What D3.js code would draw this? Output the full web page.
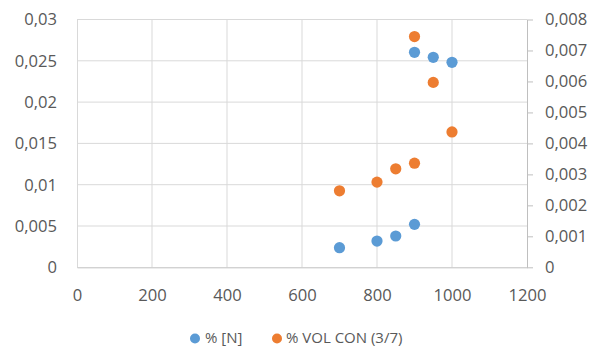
<!DOCTYPE html>
<html>
<head>
<meta charset="utf-8">
<script src="https://cdn.jsdelivr.net/npm/d3@7"></script>
<style>
html,body{margin:0;padding:0;background:#fff;}
text{font-family:"Open Sans",sans-serif;fill:#595959;}
</style>
</head>
<body>
<svg id="chart" width="591" height="348"></svg>
<script>
// Data
const seriesNames = ["% [N]", "% VOL CON (3/7)"];
const xValues = [700, 800, 850, 900, 900, 950, 1000];
const nValues = [0.00237, 0.00318, 0.00379, 0.0052, 0.02603, 0.02542, 0.02482];
const volValues = [0.00247, 0.00275, 0.00318, 0.00336, 0.00745, 0.00597, 0.00437];
const xTicks = [0, 200, 400, 600, 800, 1000, 1200];
const yLeftTicks = [0, 0.005, 0.01, 0.015, 0.02, 0.025, 0.03];
const yRightTicks = [0, 0.001, 0.002, 0.003, 0.004, 0.005, 0.006, 0.007, 0.008];
const colors = ["#5B9BD5", "#ED7D31"];

const svg = d3.select("#chart");
const pLeft = 77, pRight = 527, pTop = 19.5, pBottom = 267.3;

const x = d3.scaleLinear().domain([0, 1200]).range([pLeft, pRight]);
const yL = d3.scaleLinear().domain([0, 0.03]).range([pBottom, pTop]);
const yR = d3.scaleLinear().domain([0, 0.008]).range([pBottom, pTop]);
const fmt = v => String(+v.toFixed(4)).replace(".", ",");

// Gridlines
svg.append("g").selectAll("line").data(yLeftTicks.slice(1)).join("line")
  .attr("x1", pLeft).attr("x2", pRight)
  .attr("y1", d => yL(d)).attr("y2", d => yL(d))
  .attr("stroke", "#d9d9d9").attr("stroke-width", 1);
svg.append("g").selectAll("line").data(xTicks.slice(1, -1)).join("line")
  .attr("x1", d => x(d)).attr("x2", d => x(d))
  .attr("y1", pTop).attr("y2", pBottom)
  .attr("stroke", "#d9d9d9").attr("stroke-width", 1);

// Left axis
const gL = svg.append("g").attr("transform", `translate(${pLeft},0)`)
  .call(d3.axisLeft(yL).tickValues(yLeftTicks).tickFormat(fmt).tickSize(0).tickPadding(20));
gL.select(".domain").attr("stroke", "#d9d9d9");
gL.selectAll("text").style("font-size", "16.6px").style("font-family", "Open Sans").attr("fill", "#595959");

// Right axis
const gR = svg.append("g").attr("transform", `translate(${pRight},0)`)
  .call(d3.axisRight(yR).tickValues(yRightTicks).tickFormat(fmt).tickSize(6).tickSizeOuter(0).tickPadding(12));
gR.select(".domain").attr("stroke", "#bfbfbf");
gR.selectAll(".tick line").attr("stroke", "#bfbfbf");
gR.selectAll("text").style("font-size", "16.6px").style("font-family", "Open Sans").attr("fill", "#595959");

// Bottom axis
const gB = svg.append("g").attr("transform", `translate(0,${pBottom})`)
  .call(d3.axisBottom(x).tickValues(xTicks).tickFormat(d => d).tickSize(0).tickPadding(22));
gB.select(".domain").attr("stroke", "#bfbfbf");
gB.selectAll("text").style("font-size", "16.6px").style("font-family", "Open Sans").attr("fill", "#595959");

// Points
const ptsN = xValues.map((d, i) => ({x: d, y: nValues[i]}));
const ptsV = xValues.map((d, i) => ({x: d, y: volValues[i]}));
svg.append("g").selectAll("circle").data(ptsN).join("circle")
  .attr("cx", d => x(d.x)).attr("cy", d => yL(d.y)).attr("r", 5.6).attr("fill", colors[0]);
svg.append("g").selectAll("circle").data(ptsV).join("circle")
  .attr("cx", d => x(d.x)).attr("cy", d => yR(d.y)).attr("r", 5.6).attr("fill", colors[1]);

// Legend
const legendPos = [{cx: 195, tx: 205}, {cx: 277, tx: 286}];
const lg = svg.append("g");
seriesNames.forEach((name, i) => {
  lg.append("circle").attr("cx", legendPos[i].cx).attr("cy", 338.5).attr("r", 5).attr("fill", colors[i]);
  lg.append("text").attr("x", legendPos[i].tx).attr("y", 337.5).attr("dy", "0.35em")
    .style("font-size", "15px").text(name);
});
</script>
</body>
</html>
